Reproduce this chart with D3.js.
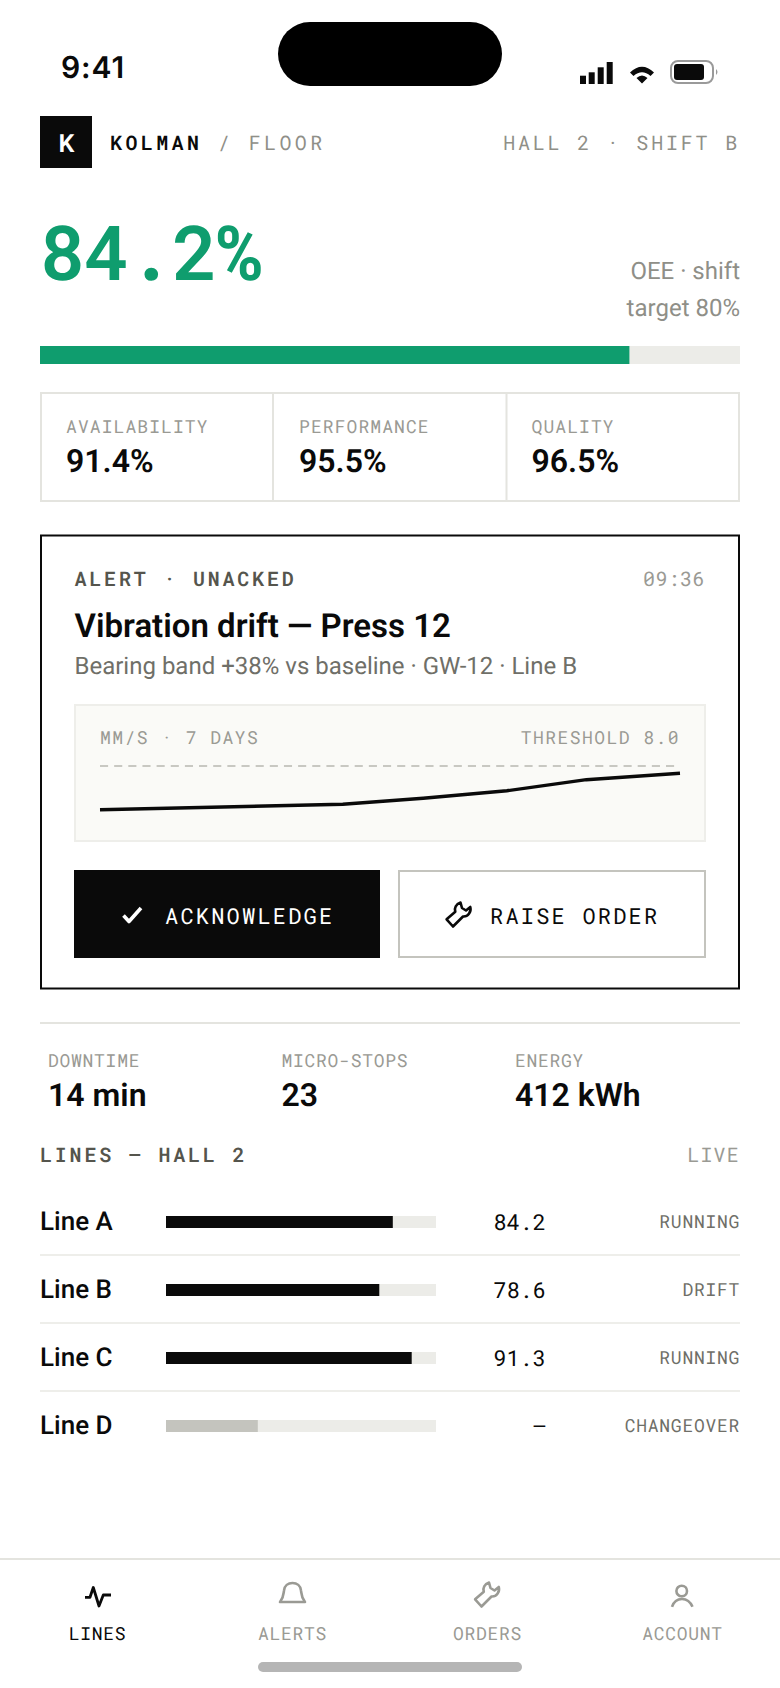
<!DOCTYPE html>
<html><head><meta charset="utf-8">
<script src="https://cdn.jsdelivr.net/npm/d3@7"></script>
<style>
html,body{margin:0;padding:0;background:#fff}
svg{display:block;text-rendering:geometricPrecision}
</style></head><body><div id="app"></div>
<script>
const oee = 84.2, oeeTarget = 80;
const tileLabels = ["AVAILABILITY","PERFORMANCE","QUALITY"];
const tileValues = ["91.4%","95.5%","96.5%"];
const statLabels = ["DOWNTIME","MICRO-STOPS","ENERGY"];
const statValues = ["14 min","23","412 kWh"];
const sparkDays = [0,2.93,3.90,4.91,5.87,7];
const sparkValues = [5.47,5.79,6.14,6.57,7.21,7.58];
const sparkThreshold = 8.0;
const lineNames = ["Line A","Line B","Line C","Line D"];
const lineValues = [84,79,91,34];
const lineLabels = ["84.2","78.6","91.3","—"];
const lineStatus = ["RUNNING","DRIFT","RUNNING","CHANGEOVER"];
const navLabels = ["LINES","ALERTS","ORDERS","ACCOUNT"];
const MONO = "'Roboto Mono','DejaVu Sans Mono',monospace", SANS = "Roboto,sans-serif";
const INK="#0a0a0a", GREEN="#0f9d6e", TRACK="#ecece8", RULE="#e4e4df", GREY="#8f8f88", LT="#9a9a94", DK="#55554d", MID="#6f6f68";

const svg = d3.select("#app").append("svg").attr("width",780).attr("height",1688).attr("viewBox","0 0 780 1688");
function T(x,y,s,o={}){
  return svg.append("text").attr("x",x).attr("y",y).text(s)
   .attr("font-family",o.f||MONO).attr("font-size",o.s||18).attr("font-weight",o.w||400)
   .attr("fill",o.c||INK).attr("letter-spacing",o.ls||0).attr("text-anchor",o.a||"start");
}
function R(x,y,w,h,fill,o={}){
  return svg.append("rect").attr("x",x).attr("y",y).attr("width",w).attr("height",h).attr("fill",fill)
   .attr("rx",o.r||0).attr("stroke",o.st||"none").attr("stroke-width",o.sw||0);
}
function P(d,c,w,x=0,y=0){
  return svg.append("path").attr("d",d).attr("transform",`translate(${x},${y})`).attr("fill","none").attr("stroke",c).attr("stroke-width",w).attr("stroke-linejoin","round").attr("stroke-linecap","butt");
}
// status bar
T(61,78,"9:41",{f:"Inter,"+SANS,s:30,w:600,ls:0.9});
R(278,22,224,64,"#000",{r:32});
[[580,8.3],[588.7,11.7],[597.7,16.7],[606.7,22]].forEach(b=>R(b[0],84-b[1],6,b[1],INK));
svg.append("path").attr("d","M630 72.5 Q642 61 654 72.5 L650.5 76 Q642 68.5 633.5 76 Z M636.5 78 Q642 73 647.5 78 L642 83.5 Z").attr("fill",INK);
R(671,61,42,22,"none",{r:7,st:"#9a9a9a",sw:2});
R(674,64,30,16,INK,{r:3});
svg.append("path").attr("d","M716 69 Q719 72 716 75 Z").attr("fill","#9a9a9a");
// header
R(40,116,52,52,INK);
T(66.5,151.7,"K",{f:SANS,s:25,w:600,c:"#fff",a:"middle"});
const brand=T(110,150,"",{s:20,ls:3.4}).attr("xml:space","preserve").style("white-space","pre");
brand.append("tspan").attr("font-weight",600).text("KOLMAN");
brand.append("tspan").attr("fill",GREY).text(" / FLOOR");
T(740,150,"HALL 2 · SHIFT B",{s:20,ls:2.8,c:GREY,a:"end"});
// OEE
T(40,280,"84.2%",{s:76,w:600,ls:-1.5,c:GREEN});
T(740,279,"OEE · shift",{f:SANS,s:24,c:GREY,a:"end"});
T(740,316,"target 80%",{f:SANS,s:24,c:GREY,a:"end"});
const xOee = d3.scaleLinear().domain([0,100]).range([40,740]);
R(40,346,700,18,TRACK);
R(40,346,xOee(oee)-40,18,GREEN);
// tiles
R(41,393,698,108,"none",{st:RULE,sw:2});
[273,506.5].forEach(x=>R(x-1,392,2,110,RULE));
const tileX=[66,299,531.5];
tileLabels.forEach((l,i)=>{T(tileX[i],432.5,l,{s:18,ls:1.08,c:LT});T(tileX[i],472,tileValues[i],{f:SANS,s:32,w:600});});
// alert card
R(41,535.5,698,453,"none",{st:INK,sw:2});
T(74.5,586,"ALERT · UNACKED",{s:20,w:600,ls:2.8,c:DK});
T(705,586,"09:36",{s:20,ls:0.4,c:LT,a:"end"});
T(74.5,637,"Vibration drift — Press 12",{f:SANS,s:33,w:600});
T(74.5,674,"Bearing band +38% vs baseline · GW-12 · Line B",{f:SANS,s:24,c:MID});
R(75,705,630,136,"#fafaf7",{st:"#eeeeea",sw:2});
T(100,744,"MM/S · 7 DAYS",{s:18,ls:1.44,c:LT});
T(680,744,"THRESHOLD 8.0",{s:18,ls:1.44,c:LT,a:"end"});
const xS=d3.scaleLinear().domain([0,7]).range([100,680]);
const yS=d3.scaleLinear().domain([5.5,8]).range([809.3,766]);
svg.append("line").attr("x1",xS(0)).attr("x2",xS(7)).attr("y1",yS(sparkThreshold)).attr("y2",yS(sparkThreshold)).attr("stroke","#c8c8c2").attr("stroke-width",2).attr("stroke-dasharray","8.1 6.05");
svg.append("path").attr("d",d3.line().x(d=>xS(d)).y((d,i)=>yS(sparkValues[i]))(sparkDays)).attr("fill","none").attr("stroke",INK).attr("stroke-width",3.4);
// buttons
R(74,870,306,88,INK);
R(399,871,306,86,"#fff",{st:"#c4c4be",sw:2});
T(165,924,"ACKNOWLEDGE",{s:22,ls:2.2,c:"#fff"});
T(490,924,"RAISE ORDER",{s:22,ls:2.2});
P("M123.5 915.5 L129 921.5 L141 908","#fff",3.6);
const wrench="M7 24.5 L0.6 17.3 L9.3 9.7 C8 6 10 2 14.5 0.6 L16 6 L20 8.5 L24.3 5 C25.5 10 22 15 17 14.5 Z";
P(wrench,INK,2.6,446,902);
// stats
R(40,1022,700,2,RULE);
const statX=[48,281.5,515];
statLabels.forEach((l,i)=>{T(statX[i],1066.5,l,{s:18,ls:0.72,c:LT});T(statX[i],1106,statValues[i],{f:SANS,s:32,w:600});});
T(40,1162,"LINES — HALL 2",{s:20,w:600,ls:2.8,c:DK});
T(740,1162,"LIVE",{s:20,ls:1.2,c:LT,a:"end"});
// rows
const xBar=d3.scaleLinear().domain([0,100]).range([166,436]);
const yRow=d3.scaleBand().domain(lineNames).range([1184,1456]);
lineNames.forEach((n,i)=>{
  const c=yRow(n)+yRow.bandwidth()/2;
  T(40,c+12,n,{f:SANS,s:26,w:500});
  R(xBar(0),c-2,xBar(100)-xBar(0),12,TRACK);
  R(xBar(0),c-2,xBar(lineValues[i])-xBar(0),12,i==3?"#c4c4be":INK);
  T(546,c+12,lineLabels[i],{s:22,a:"end"});
  T(740,c+10,lineStatus[i],{s:18,ls:0.72,c:MID,a:"end"});
  if(i<3)R(40,c+36,700,2,"#eeeeea");
});
// nav
R(0,1558,780,2,RULE);
const xNav=d3.scalePoint().domain(navLabels).range([97.5,682.5]);
navLabels.forEach((l,i)=>T(xNav(l),1640,l,{s:18,ls:0.72,c:i?LT:INK,a:"middle"}));
P("M85 1597.3 H90 L93.3 1587.5 L99 1606 L103.3 1595 H111",INK,2.8);
P("M280 1602 H305 C301 1597 301.5 1593 301 1590.5 C300.5 1586 297 1583 292.5 1583 C288 1583 284.5 1586 284 1590.5 C283.5 1593 284 1597 280 1602Z",LT,2.6);
P(wrench,LT,2.6,474.5,1582);
P("M687 1591 a5.3 5.3 0 1 1 -10.6 0 a5.3 5.3 0 1 1 10.6 0 M672 1606.8 C674 1601 678 1599 682 1599 C686 1599 690 1601 692.5 1606.8",LT,2.6);
R(258,1662,264,10,"#b5b5b5",{r:5});
</script></body></html>
